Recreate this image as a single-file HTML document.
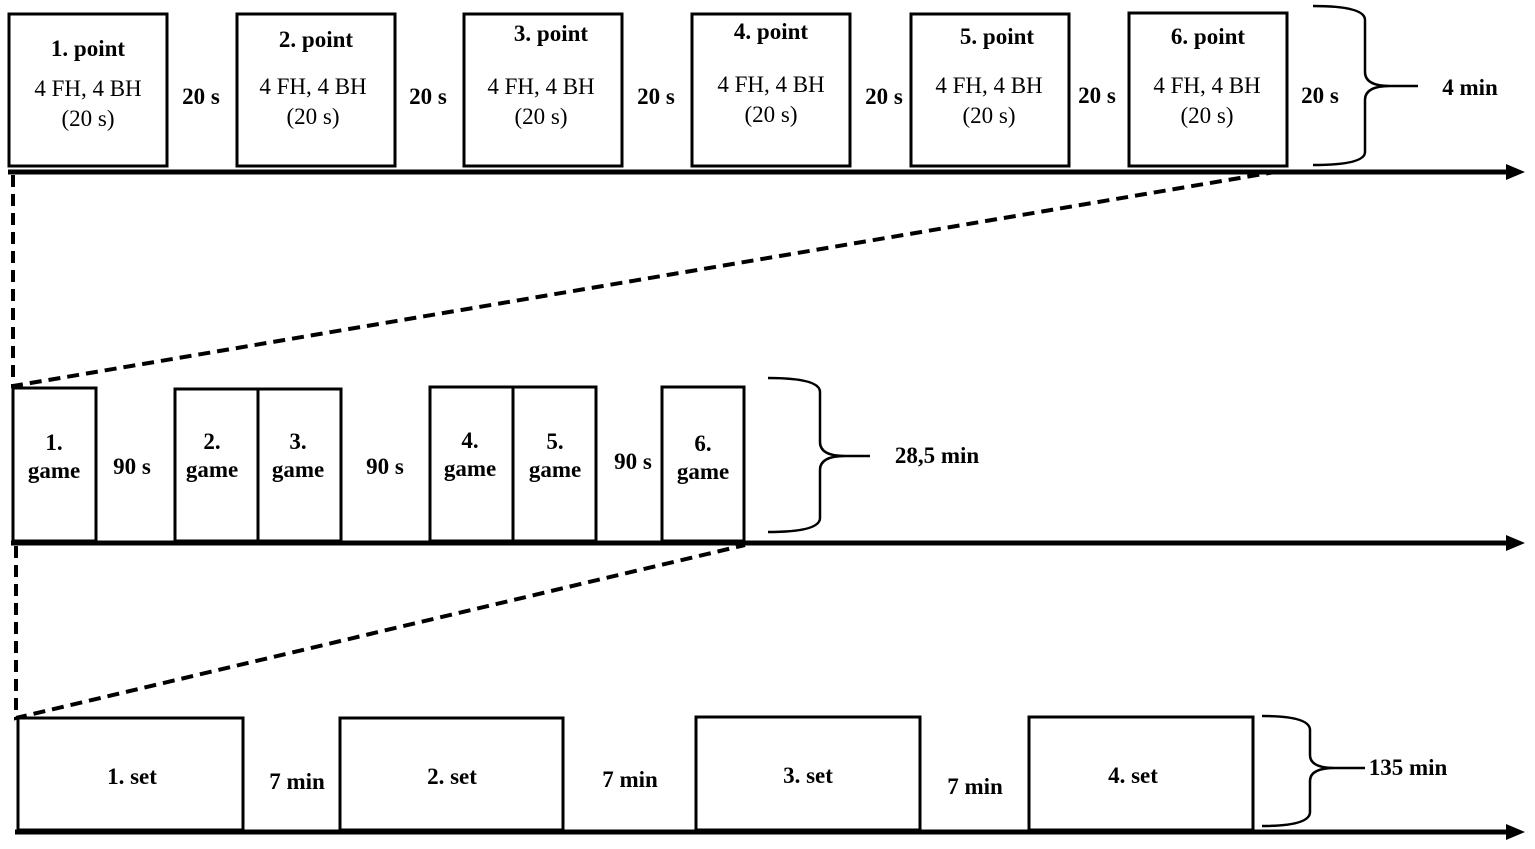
<!DOCTYPE html>
<html><head><meta charset="utf-8"><style>
html,body{margin:0;padding:0;background:#fff;}
svg{display:block;}
text{font-family:"Liberation Serif",serif;fill:#000;}
.b{font-weight:bold;}
</style></head><body>
<svg width="1535" height="849" viewBox="0 0 1535 849" xmlns="http://www.w3.org/2000/svg">
<g fill="none" stroke="#000" stroke-width="3">
<rect x="9" y="14" width="158" height="152"/>
<rect x="237" y="14" width="158" height="152"/>
<rect x="464" y="14" width="158" height="152"/>
<rect x="692" y="14" width="158" height="152"/>
<rect x="911" y="14" width="158" height="152"/>
<rect x="1129" y="13" width="158" height="153"/>
<rect x="13" y="388" width="83" height="153"/>
<rect x="175" y="389" width="83" height="152"/>
<rect x="258" y="389" width="83" height="152"/>
<rect x="430" y="387" width="83" height="154"/>
<rect x="513" y="387" width="83" height="154"/>
<rect x="662" y="387" width="82" height="154"/>
<rect x="18" y="718" width="225" height="112"/>
<rect x="340" y="718" width="223" height="112"/>
<rect x="696" y="717" width="224" height="113"/>
<rect x="1029" y="717" width="224" height="113"/>
<path d="M1313 6 Q1365 6 1365 20 L1365 72 Q1365 86 1390 86 L1418 86 M1390 86 Q1365 86 1365 100 L1365 152 Q1365 165 1313 165" stroke-width="2.5"/>
<path d="M768 378 Q820 378 820 392 L820 442 Q820 456 845 456 L870 456 M845 456 Q820 456 820 470 L820 518 Q820 532 768 532" stroke-width="2.5"/>
<path d="M1262 716 Q1310 716 1310 730 L1310 755 Q1310 768 1335 768 L1365 768 M1335 768 Q1310 768 1310 781 L1310 812 Q1310 826 1262 826" stroke-width="2.5"/>
</g>
<g stroke="#000" stroke-width="5">
<line x1="8" y1="172" x2="1510" y2="172"/>
<line x1="11" y1="543" x2="1510" y2="543"/>
<line x1="15" y1="832" x2="1510" y2="832"/>
</g>
<g fill="#000">
<polygon points="1506,164 1525,172 1506,180"/>
<polygon points="1506,535 1525,543 1506,551"/>
<polygon points="1506,824 1525,832 1506,840"/>
</g>
<g stroke="#000" stroke-width="4" stroke-dasharray="12,7" fill="none">
<path d="M13 175 L13 386 L1275 172"/>
<path d="M16 546 L16 718 L745 545"/>
</g>
<g font-size="23" text-anchor="middle">
<text x="88" y="56" class="b">1. point</text><text x="88" y="96">4 FH, 4 BH</text><text x="88" y="126">(20 s)</text>
<text x="316" y="47" class="b">2. point</text><text x="313" y="94">4 FH, 4 BH</text><text x="313" y="124">(20 s)</text>
<text x="551" y="41" class="b">3. point</text><text x="541" y="94">4 FH, 4 BH</text><text x="541" y="124">(20 s)</text>
<text x="771" y="39" class="b">4. point</text><text x="771" y="92">4 FH, 4 BH</text><text x="771" y="122">(20 s)</text>
<text x="997" y="44" class="b">5. point</text><text x="989" y="93">4 FH, 4 BH</text><text x="989" y="123">(20 s)</text>
<text x="1208" y="44" class="b">6. point</text><text x="1207" y="93">4 FH, 4 BH</text><text x="1207" y="123">(20 s)</text>
</g>
<g font-size="23" text-anchor="middle" class="b">
<text x="201" y="104" class="b">20 s</text>
<text x="428" y="104" class="b">20 s</text>
<text x="656" y="104" class="b">20 s</text>
<text x="884" y="104" class="b">20 s</text>
<text x="1097" y="103" class="b">20 s</text>
<text x="1320" y="103" class="b">20 s</text>
<text x="1470" y="95" class="b">4 min</text>
</g>
<g font-size="23" text-anchor="middle" font-weight="bold">
<text x="54" y="450">1.</text><text x="54" y="478">game</text>
<text x="132" y="474">90 s</text>
<text x="212" y="449">2.</text><text x="212" y="477">game</text>
<text x="298" y="449">3.</text><text x="298" y="477">game</text>
<text x="385" y="474">90 s</text>
<text x="470" y="448">4.</text><text x="470" y="476">game</text>
<text x="555" y="449">5.</text><text x="555" y="477">game</text>
<text x="633" y="469">90 s</text>
<text x="703" y="451">6.</text><text x="703" y="479">game</text>
<text x="937" y="463">28,5 min</text>
<text x="132" y="784">1. set</text>
<text x="297" y="789">7 min</text>
<text x="452" y="784">2. set</text>
<text x="630" y="787">7 min</text>
<text x="808" y="783">3. set</text>
<text x="975" y="794">7 min</text>
<text x="1133" y="783">4. set</text>
<text x="1408" y="775">135 min</text>
</g>
</svg>
</body></html>
